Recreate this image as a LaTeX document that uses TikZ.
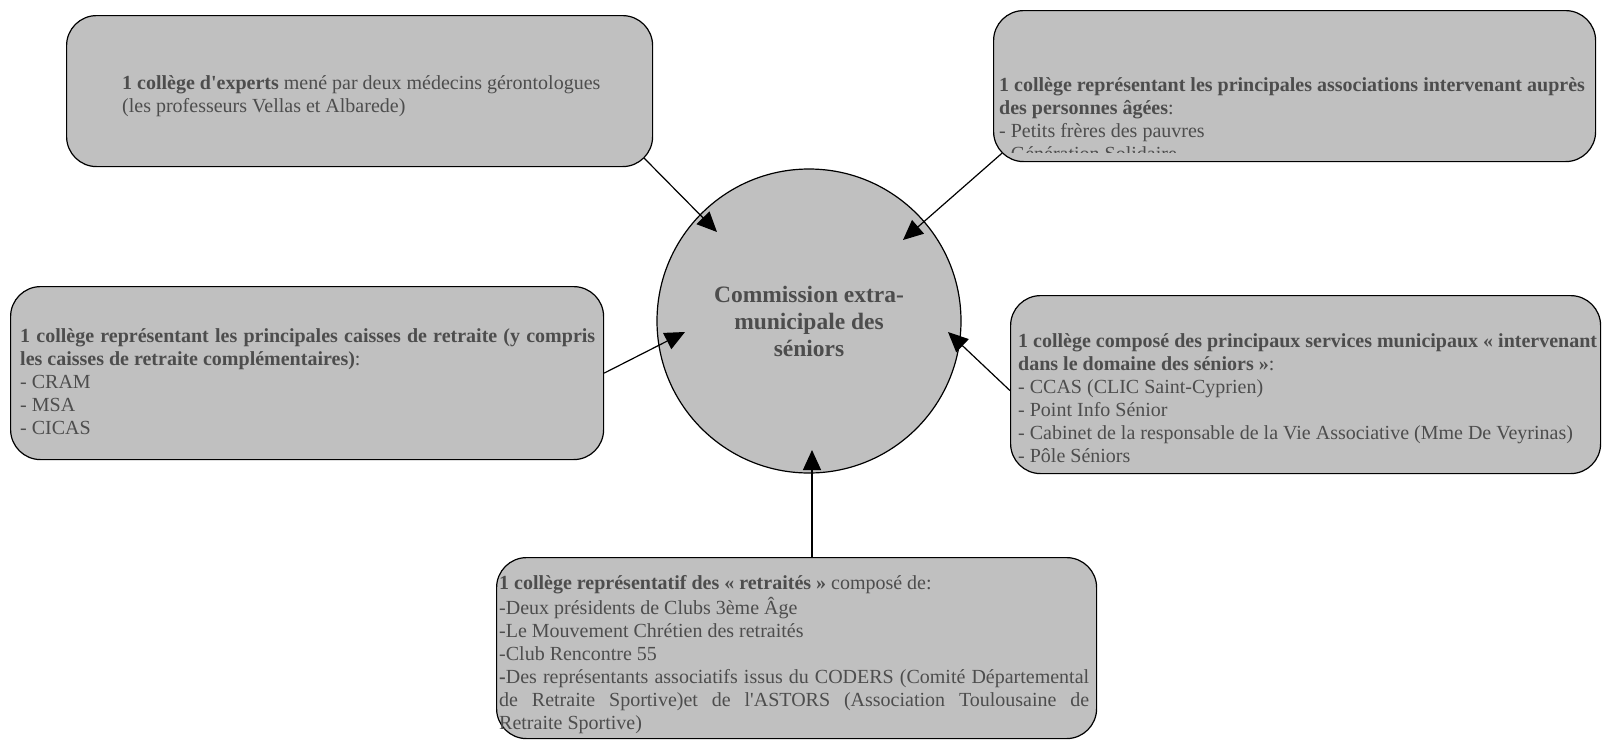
\documentclass[tikz,border=0pt]{standalone}
\usepackage{fontspec}
\setmainfont{Liberation Serif}[Ligatures=TeXOff]
\usetikzlibrary{arrows.meta}
\definecolor{boxfill}{RGB}{192,192,192}
\definecolor{inktext}{RGB}{77,77,77}

\begin{document}
\begin{tikzpicture}[x=1pt,y=-1pt,
  box/.style={draw=black, line width=1.2pt, fill=boxfill, rounded corners=30pt,
    anchor=north west, inner sep=0pt},
  txt/.style={anchor=north west, inner sep=0pt, text=inktext, align=left,
    font=\fontsize{20}{23}\selectfont},
  link/.style={draw=black, line width=1.2pt, -{Triangle[length=20pt,width=18pt]}}]
\useasboundingbox (0,0) rectangle (1603,739);

% the five colleges
\node[box, minimum width=586pt, minimum height=151pt] (b1) at (66,15) {};
\node[box, minimum width=602pt, minimum height=151pt] (b2) at (993,10) {};
\node[box, minimum width=593pt, minimum height=173pt] (b3) at (10,286) {};
\node[box, minimum width=590pt, minimum height=178pt] (b4) at (1010,295) {};
\node[box, minimum width=600pt, minimum height=181pt] (b5) at (496,557) {};

% the commission
\node[circle, draw=black, line width=1.2pt, fill=boxfill, minimum size=304pt,
  inner sep=0pt, text=inktext, align=center,
  font=\bfseries\fontsize{23.5}{27}\selectfont] (c) at (809,321)
  {Commission extra-\\municipale des\\séniors};

% texts of the colleges
\node[txt] (l1) at (122,73) {\strut\textbf{1 collège d'experts} mené par deux médecins gérontologues\\
  (les professeurs Vellas et Albarede)};

\begin{scope}
  \clip (993,10) rectangle (1595,152);
  \node[txt] (l2) at (999,75) {\strut\textbf{1 collège représentant les principales associations intervenant auprès}\\
    \textbf{des personnes âgées}:\\
    - Petits frères des pauvres\\
    - Génération Solidaire};
\end{scope}

\node[txt] (l3) at (20,326) {\strut\makebox[575pt][s]{\textbf{1 collège représentant les principales caisses de retraite (y compris}}\\
  \textbf{les caisses de retraite complémentaires)}:\\
  - CRAM\\
  - MSA\\
  - CICAS};

\node[txt] (l4) at (1018,331) {\strut\textbf{1 collège composé des principaux services municipaux « intervenant}\\
  \textbf{dans le domaine des séniors »}:\\
  - CCAS (CLIC Saint-Cyprien)\\
  - Point Info Sénior\\
  - Cabinet de la responsable de la Vie Associative (Mme De Veyrinas)\\
  - Pôle Séniors};

\node[txt] (l5) at (499,573) {\strut\textbf{1 collège représentatif des « retraités »} composé de:\\
  -Deux présidents de Clubs 3ème Âge\\
  -Le Mouvement Chrétien des retraités\\
  -Club Rencontre 55\\
  \makebox[590pt][s]{\textbf{-}Des représentants associatifs issus du CODERS (Comité Départemental}\\
  \makebox[590pt][s]{de Retraite Sportive)et de l'ASTORS (Association Toulousaine de}\\
  Retraite Sportive)};

% connectors into the commission
\coordinate (t1) at (717,232);
\coordinate (t2) at (903,240);
\coordinate (t3) at (685,332);
\coordinate (t4) at (948,332);
\coordinate (t5) at (812,450);
\draw[link] ([shift={(-9,-9)}]b1.south east) -- (t1);
\draw[link] ([shift={(9,-9)}]b2.south west) -- (t2);
\draw[link] (b3.east) -- (t3);
\draw[link] ([yshift=-6pt]b4.west) -- (t4);
\draw[link] (b5.north -| t5) -- (t5);
\end{tikzpicture}
\end{document}
